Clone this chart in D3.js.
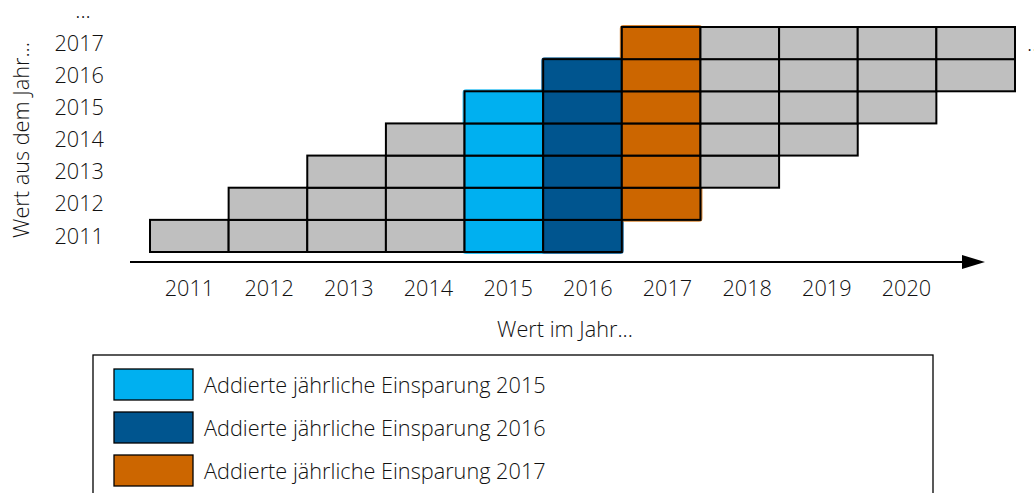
<!DOCTYPE html>
<html>
<head>
<meta charset="utf-8">
<script src="https://cdn.jsdelivr.net/npm/d3@7"></script>
<style>
  body { margin: 0; background: #fff; }
  svg text { font-family: "Open Sans", "Noto Sans", sans-serif; font-weight: 300; fill: #111; }
</style>
</head>
<body>
<div id="chart"></div>
<script>
// savings year (rows) and the last year each saving still counts
var rowYears = [2011, 2012, 2013, 2014, 2015, 2016, 2017];
var rowLastYears = [2016, 2017, 2018, 2019, 2020, 2021, 2021];
var xTickYears = [2011, 2012, 2013, 2014, 2015, 2016, 2017, 2018, 2019, 2020];
var yTickYears = [2011, 2012, 2013, 2014, 2015, 2016, 2017];
var highlightYears = [2015, 2016, 2017];
var highlightColors = ["#00b0f0", "#00558f", "#cc6600"];
var legendLabels = [
    "Addierte jährliche Einsparung 2015",
    "Addierte jährliche Einsparung 2016",
    "Addierte jährliche Einsparung 2017"
];

var width = 1034,
    height = 493,
    fs = 21.7;

var svg = d3.select("#chart").append("svg")
    .attr("width", width)
    .attr("height", height);

// one cell per year, last column (2021) is cut by the "..."
var x = d3.scaleLinear().domain([2011, 2022]).range([150, 1015]);
var y = d3.scaleLinear().domain([2011, 2018]).range([252, 27]);
var xLabel = d3.scalePoint().domain(xTickYears).range([189, 906]);

var color = d3.scaleOrdinal().domain(highlightYears).range(highlightColors);

/* build the cells */
var cells = [];
rowYears.forEach(function(r, i) {
    d3.range(r, rowLastYears[i] + 1).forEach(function(c) {
        cells.push({ row: r, col: c });
    });
});

// coloured outline round each highlighted column
var outlines = highlightYears.map(function(c) {
    var inCol = cells.filter(function(d) { return d.col === c; });
    return {
        col: c,
        top: d3.max(inCol, function(d) { return d.row; }),
        bottom: d3.min(inCol, function(d) { return d.row; })
    };
});

svg.append("g").selectAll("rect")
    .data(outlines)
    .enter().append("rect")
    .attr("x", function(d) { return x(d.col); })
    .attr("y", function(d) { return y(d.top + 1); })
    .attr("width", function(d) { return x(d.col + 1) - x(d.col); })
    .attr("height", function(d) { return y(d.bottom) - y(d.top + 1); })
    .attr("rx", 1.5)
    .attr("fill", "none")
    .attr("stroke", function(d) { return color(d.col); })
    .attr("stroke-width", 4)
    .attr("stroke-opacity", 0.8);

svg.append("g").selectAll("rect")
    .data(cells)
    .enter().append("rect")
    .attr("x", function(d) { return x(d.col); })
    .attr("y", function(d) { return y(d.row + 1); })
    .attr("width", function(d) { return x(d.col + 1) - x(d.col); })
    .attr("height", function(d) { return y(d.row) - y(d.row + 1); })
    .attr("fill", function(d) {
        return highlightYears.indexOf(d.col) >= 0 ? color(d.col) : "#bfbfbf";
    })
    .attr("stroke", "#000")
    .attr("stroke-width", 2);

/* x axis with arrow */
svg.append("line")
    .attr("x1", 130).attr("x2", 966)
    .attr("y1", 262).attr("y2", 262)
    .attr("stroke", "#000")
    .attr("stroke-width", 2);
svg.append("path")
    .attr("d", "M962,255L985,262L962,269Z")
    .attr("fill", "#000");

var xAxis = svg.append("g")
    .attr("transform", "translate(0,262)")
    .call(d3.axisBottom(xLabel).tickSize(0).tickPadding(19));
xAxis.select(".domain").remove();
xAxis.selectAll("text")
    .attr("font-size", fs)
    .style("font-family", "\"Open Sans\", sans-serif")
    .attr("fill", "#111");

svg.append("text")
    .attr("x", 565)
    .attr("y", 337)
    .attr("text-anchor", "middle")
    .attr("font-size", fs)
    .text("Wert im Jahr...");

/* y labels */
var yAxis = svg.append("g")
    .attr("transform", "translate(104,0)");
yAxis.selectAll("text")
    .data(yTickYears)
    .enter().append("text")
    .attr("x", 0)
    .attr("y", function(d) { return (y(d) + y(d + 1)) / 2; })
    .attr("dy", "0.35em")
    .attr("text-anchor", "end")
    .attr("font-size", fs)
    .text(function(d) { return d; });

svg.append("text")
    .attr("x", 83)
    .attr("y", 18)
    .attr("text-anchor", "middle")
    .attr("font-size", fs)
    .text("...");

svg.append("text")
    .attr("x", 1027)
    .attr("y", 51)
    .attr("font-size", fs)
    .text("...");

svg.append("text")
    .attr("transform", "translate(29,140) rotate(-90)")
    .attr("text-anchor", "middle")
    .attr("font-size", fs)
    .text("Wert aus dem Jahr...");

/* legend */
var legend = svg.append("g");
legend.append("rect")
    .attr("x", 93).attr("y", 355)
    .attr("width", 840).attr("height", 200)
    .attr("fill", "none")
    .attr("stroke", "#000")
    .attr("stroke-width", 1.3);

var item = legend.selectAll(".item")
    .data(highlightYears)
    .enter().append("g")
    .attr("class", "item")
    .attr("transform", function(d, i) { return "translate(114," + (369 + i * 43) + ")"; });

item.append("rect")
    .attr("width", 79)
    .attr("height", 31)
    .attr("fill", function(d) { return color(d); })
    .attr("stroke", "#000")
    .attr("stroke-width", 1.3);

item.append("text")
    .attr("x", 90)
    .attr("y", 16)
    .attr("dy", "0.35em")
    .attr("font-size", fs)
    .text(function(d, i) { return legendLabels[i]; });
</script>
</body>
</html>
